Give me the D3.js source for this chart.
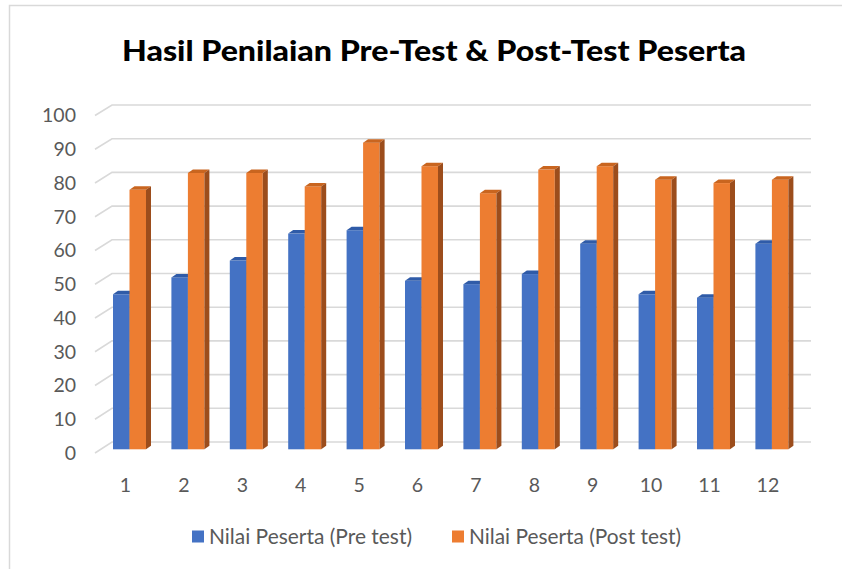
<!DOCTYPE html>
<html>
<head>
<meta charset="utf-8">
<script src="https://cdn.jsdelivr.net/npm/d3@7"></script>
<style>
  html, body { margin: 0; padding: 0; background: #fff; }
  svg { display: block; }
  text { font-family: Lato, "Open Sans", sans-serif; }
</style>
</head>
<body>
<svg id="chart" width="842" height="569"></svg>
<script>
const title = "Hasil Penilaian Pre-Test & Post-Test Peserta";
const categories = ["1","2","3","4","5","6","7","8","9","10","11","12"];
const seriesNames = ["Nilai Peserta (Pre test)", "Nilai Peserta (Post test)"];
const preTest  = [46, 51, 56, 64, 65, 50, 49, 52, 61, 46, 45, 61];
const postTest = [77, 82, 82, 78, 91, 84, 76, 83, 84, 80, 79, 80];
const yTicks = [0,10,20,30,40,50,60,70,80,90,100];

const colors = {
  pre:  {front: "#4472C4", top: "#2F5BA8", side: "#2D4F8E"},
  post: {front: "#ED7D31", top: "#C9651F", side: "#9C4D1C"}
};

const svg = d3.select("#chart");

// frame border (top + left visible)
svg.append("path").attr("d", "M9.5,569 L9.5,5.5 L842,5.5")
  .attr("fill", "none").attr("stroke", "#d9d9d9").attr("stroke-width", 1.5);

// title
svg.append("text").attr("x", 434).attr("y", 61)
  .attr("text-anchor", "middle").attr("font-weight", 900)
  .attr("font-size", 29).attr("fill", "#000")
  .attr("textLength", 624).attr("lengthAdjust", "spacingAndGlyphs")
  .text(title);

// scales: front plane, back wall, bar plane
const yFront = d3.scaleLinear().domain([0,100]).range([453, 115.5]);
const yBack  = d3.scaleLinear().domain([0,100]).range([442, 105]);
const yBar   = d3.scaleLinear().domain([0,100]).range([449.3, 112.3]);
const frontX = 95, backX = 112, wallRight = 811;

const x0 = d3.scaleBand().domain(categories).range([100.3, 801.1])
  .paddingInner(0.435).paddingOuter(0.2175);
const x1 = d3.scaleBand().domain(["pre","post"]).range([0, x0.bandwidth()]);

// gridlines
const grid = svg.append("g").attr("stroke", "#d9d9d9").attr("stroke-width", 1.6).attr("fill", "none");
yTicks.forEach(v => {
  grid.append("path").attr("d",
    `M${frontX},${yFront(v)} L${backX},${yBack(v)} L${wallRight},${yBack(v)}`);
});

// y labels
svg.append("g").selectAll("text").data(yTicks).join("text")
  .attr("x", 76).attr("y", d => yFront(d)).attr("dy", "0.35em")
  .attr("text-anchor", "end").attr("font-size", 19.5).attr("fill", "#595959")
  .text(d => d);

// bars
const dx = 5, dy = -3.5;
const rows = categories.map((c, i) => ({cat: c, pre: preTest[i], post: postTest[i]}));
const bars = svg.append("g");
rows.forEach(r => {
  ["pre","post"].forEach(k => {
    const x = x0(r.cat) + x1(k), w = x1.bandwidth();
    const yt = yBar(r[k]), yb = yBar(0);
    const g = bars.append("g");
    g.append("rect").attr("x", x).attr("y", yt).attr("width", w).attr("height", yb - yt)
      .attr("fill", colors[k].front);
    g.append("path").attr("d",
      `M${x},${yt} L${x+w},${yt} L${x+w+dx},${yt+dy} L${x+dx},${yt+dy} Z`)
      .attr("fill", colors[k].top);
    g.append("path").attr("d",
      `M${x+w},${yt} L${x+w+dx},${yt+dy} L${x+w+dx},${yb+dy} L${x+w},${yb} Z`)
      .attr("fill", colors[k].side);
  });
});

// x labels
svg.append("g").selectAll("text").data(categories).join("text")
  .attr("x", d => x0(d) + x0.bandwidth()/2 - 4).attr("y", 485).attr("dy", "0.35em")
  .attr("text-anchor", "middle").attr("font-size", 19.5).attr("fill", "#595959")
  .text(d => d);

// legend
const legend = svg.append("g");
const items = [
  {name: seriesNames[0], c: colors.pre.front, x: 192, len: 203},
  {name: seriesNames[1], c: colors.post.front, x: 452, len: 212}
];
items.forEach(it => {
  const g = legend.append("g").attr("transform", `translate(${it.x},0)`);
  g.append("rect").attr("x", 0).attr("y", 530.5).attr("width", 12).attr("height", 12).attr("fill", it.c);
  g.append("text").attr("x", 17).attr("y", 537).attr("dy", "0.35em")
    .attr("font-size", 20.5).attr("fill", "#595959")
    .attr("textLength", it.len).attr("lengthAdjust", "spacingAndGlyphs")
    .text(it.name);
});
</script>
</body>
</html>
